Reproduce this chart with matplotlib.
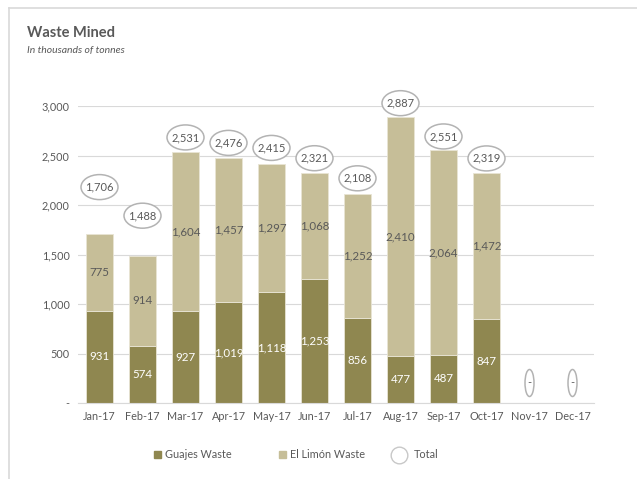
import numpy as np
import matplotlib.pyplot as plt
from matplotlib.patches import Patch, Ellipse
from matplotlib.lines import Line2D
from matplotlib.transforms import ScaledTranslation

plt.rcParams['font.family'] = ['Lato', 'DejaVu Sans']

months = ["Jan-17", "Feb-17", "Mar-17", "Apr-17", "May-17", "Jun-17",
          "Jul-17", "Aug-17", "Sep-17", "Oct-17", "Nov-17", "Dec-17"]
guajes = [931, 574, 927, 1019, 1118, 1253, 856, 477, 487, 847, 0, 0]
limon = [775, 914, 1604, 1457, 1297, 1068, 1252, 2410, 2064, 1472, 0, 0]
totals = [1706, 1488, 2531, 2476, 2415, 2321, 2108, 2887, 2551, 2319, 0, 0]

dark = "#8f8750"
light = "#c6be98"
grey_txt = "#595959"

fig = plt.figure(figsize=(6.37, 4.79), dpi=100)
ax = fig.add_axes([78/637, 1 - 403/479, 516/637, 297/479])

x = np.arange(len(months))
g = np.array(guajes)
l = np.array(limon)
ax.bar(x, g, width=0.63, color=dark, edgecolor="#e8e4d4", linewidth=0.6, zorder=2)
ax.bar(x, l, width=0.63, bottom=g, color=light, edgecolor="#e8e4d4", linewidth=0.6, zorder=2)

for i in range(len(months)):
    if totals[i] == 0:
        continue
    ax.text(x[i], g[i] / 2, f"{guajes[i]:,}", ha="center", va="center",
            color="white", fontsize=8.3, zorder=3)
    ax.text(x[i], g[i] + l[i] / 2, f"{limon[i]:,}", ha="center", va="center",
            color=grey_txt, fontsize=8.3, zorder=3)

# total labels in ellipses (first two were nudged up in the original)
offsets = [47, 40, 15, 15, 16, 15, 16, 14, 14, 15, 20, 20]
for i in range(len(months)):
    lab = f"{totals[i]:,}" if totals[i] else "-"
    w, h = (0.37, 0.25) if totals[i] else (0.09, 0.27)
    off = ScaledTranslation(0, offsets[i] / 100, fig.dpi_scale_trans)
    base = ScaledTranslation(x[i], totals[i], ax.transData)
    e = Ellipse((0, 0), w, h, transform=fig.dpi_scale_trans + off + base,
                fc="white", ec="#b3b3b3", lw=1.1, zorder=4, clip_on=False)
    ax.add_artist(e)
    ax.annotate(lab, (x[i], totals[i]), xytext=(0, offsets[i] * 0.72),
                textcoords="offset points", ha="center", va="center",
                fontsize=8, color=grey_txt, zorder=5)

ax.set_xlim(-0.5, len(months) - 0.5)
ax.set_ylim(0, 3000)
ax.set_yticks(np.arange(0, 3001, 500))
ax.set_yticklabels(["-" if v == 0 else f"{v:,}" for v in range(0, 3001, 500)])
ax.set_xticks(x)
ax.set_xticklabels(months)
ax.tick_params(axis="both", length=0, labelsize=7.8, colors=grey_txt, pad=6)
ax.yaxis.grid(True, color="#d9d9d9", linewidth=0.8, zorder=0)
ax.set_axisbelow(True)
for s in ["top", "right", "left"]:
    ax.spines[s].set_visible(False)
ax.spines["bottom"].set_color("#d9d9d9")

fig.text(27/637, 1 - 33/479, "Waste Mined", fontsize=10.5, fontweight="bold",
         color=grey_txt, va="center")
fig.text(27/637, 1 - 50/479, "In thousands of tonnes", fontsize=7.5,
         style="italic", color=grey_txt, va="center")

# legend: three entries placed separately, like the original spacing
legend_items = [
    (Patch(color=dark), "Guajes Waste", 154),
    (Patch(color=light), "El Limón Waste", 279),
    (Line2D([], [], marker="o", ls="", markersize=12, mfc="white", mec="#c8c8c8"),
     "Total", 396),
]
for handle, text, xpos in legend_items:
    fig.legend([handle], [text], loc="center left",
               bbox_to_anchor=(xpos/637, 1 - 455/479), frameon=False,
               fontsize=7.8, labelcolor=grey_txt, handlelength=0.6,
               handleheight=0.6, handletextpad=0.4 if text != "Total" else 1.0,
               borderpad=0, borderaxespad=0)

# chart border (top and left edges visible)
fig.add_artist(Line2D([9/637, 1], [1 - 8/479, 1 - 8/479], color="#d9d9d9", lw=1.2))
fig.add_artist(Line2D([9/637, 9/637], [0, 1 - 8/479], color="#d9d9d9", lw=1.2))

fig.savefig("out.png", dpi=100)
